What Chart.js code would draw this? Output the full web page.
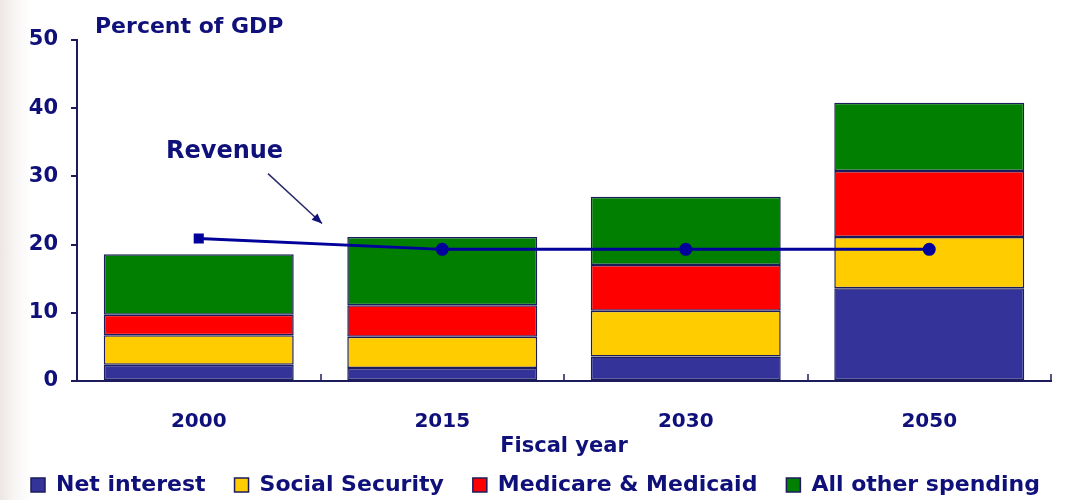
<!DOCTYPE html>
<html>
<head>
<meta charset="utf-8">
<script src="https://cdn.jsdelivr.net/npm/chart.js@4/dist/chart.umd.min.js"></script>
<style>
  html, body { margin: 0; padding: 0; }
  body { background: linear-gradient(to right, #ece6e4 0px, #f8f5f4 14px, #ffffff 32px); }
  #wrap { width: 1071px; height: 500px; position: relative; }
</style>
</head>
<body>
<div id="wrap"><canvas id="chart"></canvas></div>
<script>
// 数据
const years = ['2000', '2015', '2030', '2050'];
const netInterest = [2.4, 1.9, 3.6, 13.6];
const socialSecurity = [4.3, 4.6, 6.7, 7.5];
const medicare = [3.0, 4.6, 6.7, 9.7];
const otherSpending = [8.9, 10.0, 10.0, 10.0];
const revenue = [20.9, 19.3, 19.3, 19.3];
const yMin = 0;
const yMax = 50;
const yStep = 10;

const navy = '#10107a';
const edge = '#1c1c5c';
const font = 'DejaVu Sans';

//柱子
const bar = (label, data, color) => ({
  type: 'bar',
  label: label,
  data: data,
  backgroundColor: color,
  borderColor: edge,
  borderWidth: 1.5,
  borderSkipped: false,
  stack: 'spending',
  order: 1
});

//文字和箭头
const notes = {
  id: 'notes',
  afterDraw(chart) {
    const { ctx, chartArea, scales } = chart;
    const x = scales.x, y = scales.y;
    ctx.save();
    ctx.fillStyle = navy;
    ctx.textBaseline = 'middle';

    ctx.font = 'bold 22px "' + font + '"';
    ctx.textAlign = 'left';
    ctx.fillText('Percent of GDP', chartArea.left + 18, 27);

    ctx.font = 'bold 24px "' + font + '"';
    ctx.fillText('Revenue', chartArea.left + 89, y.getPixelForValue(33.6));

    // arrow to the revenue line
    const x0 = chartArea.left + 191, y0 = y.getPixelForValue(30.4);
    const x1 = chartArea.left + 245, y1 = y.getPixelForValue(23.1);
    ctx.strokeStyle = '#2a2a6a';
    ctx.lineWidth = 1.5;
    ctx.beginPath();
    ctx.moveTo(x0, y0);
    ctx.lineTo(x1, y1);
    ctx.stroke();
    const a = Math.atan2(y1 - y0, x1 - x0);
    ctx.beginPath();
    ctx.moveTo(x1, y1);
    ctx.lineTo(x1 - 11 * Math.cos(a - 0.4), y1 - 11 * Math.sin(a - 0.4));
    ctx.lineTo(x1 - 11 * Math.cos(a + 0.4), y1 - 11 * Math.sin(a + 0.4));
    ctx.closePath();
    ctx.fill();

    ctx.font = 'bold 21px "' + font + '"';
    ctx.textAlign = 'center';
    ctx.fillText('Fiscal year', (chartArea.left + chartArea.right) / 2, 447);

    // small upward ticks between categories
    ctx.strokeStyle = edge;
    ctx.lineWidth = 1.5;
    const half = (x.getPixelForValue(1) - x.getPixelForValue(0)) / 2;
    for (let i = 0; i < years.length; i++) {
      const px = Math.round(x.getPixelForValue(i) + half);
      ctx.beginPath();
      ctx.moveTo(px, chartArea.bottom);
      ctx.lineTo(px, chartArea.bottom - 7);
      ctx.stroke();
    }
    ctx.restore();
  }
};

new Chart(document.getElementById('chart').getContext('2d'), {
  data: {
    labels: years,
    datasets: [
      {
        type: 'line',
        label: 'Revenue',
        data: revenue,
        borderColor: '#00009a',
        backgroundColor: '#00009a',
        borderWidth: 3,
        pointStyle: ['rect', 'circle', 'circle', 'circle'],
        pointRadius: 5,
        fill: false,
        stack: 'revenue',
        order: 0
      },
      bar('Net interest', netInterest, '#333399'),
      bar('Social Security', socialSecurity, '#ffcc00'),
      bar('Medicare & Medicaid', medicare, '#ff0000'),
      bar('All other spending', otherSpending, '#007f00')
    ]
  },
  options: {
    responsive: true,
    maintainAspectRatio: false,
    animation: false,
    categoryPercentage: 0.78,
    barPercentage: 1,
    layout: { padding: { top: 40, right: 0, bottom: -6, left: 0 } },
    plugins: {
      tooltip: { enabled: false },
      legend: {
        position: 'bottom',
        labels: {
          filter: (item) => item.text !== 'Revenue',
          color: navy,
          font: { family: font, weight: 'bold', size: 22 },
          boxWidth: 14,
          boxHeight: 14,
          padding: 29
        }
      }
    },
    scales: {
      x: {
        stacked: true,
        grid: { display: false },
        border: { display: true, color: edge, width: 2 },
        ticks: {
          color: navy,
          font: { family: font, weight: 'bold', size: 20 },
          padding: 21
        },
        afterFit: (s) => { s.height = 64; }
      },
      y: {
        stacked: true,
        min: yMin,
        max: yMax,
        ticks: {
          stepSize: yStep,
          color: navy,
          font: { family: font, weight: 'bold', size: 21 },
          padding: 13
        },
        grid: { drawOnChartArea: false, tickLength: 6, color: edge, lineWidth: 2 },
        border: { display: true, color: edge, width: 2 },
        afterFit: (s) => { s.width = 77; }
      },
      // empty right margin so the legend can use the full width
      right: {
        position: 'right',
        display: true,
        ticks: { display: false },
        grid: { display: false },
        border: { display: false },
        afterFit: (s) => { s.width = 20; }
      }
    }
  },
  plugins: [notes]
});
</script>
</body>
</html>
